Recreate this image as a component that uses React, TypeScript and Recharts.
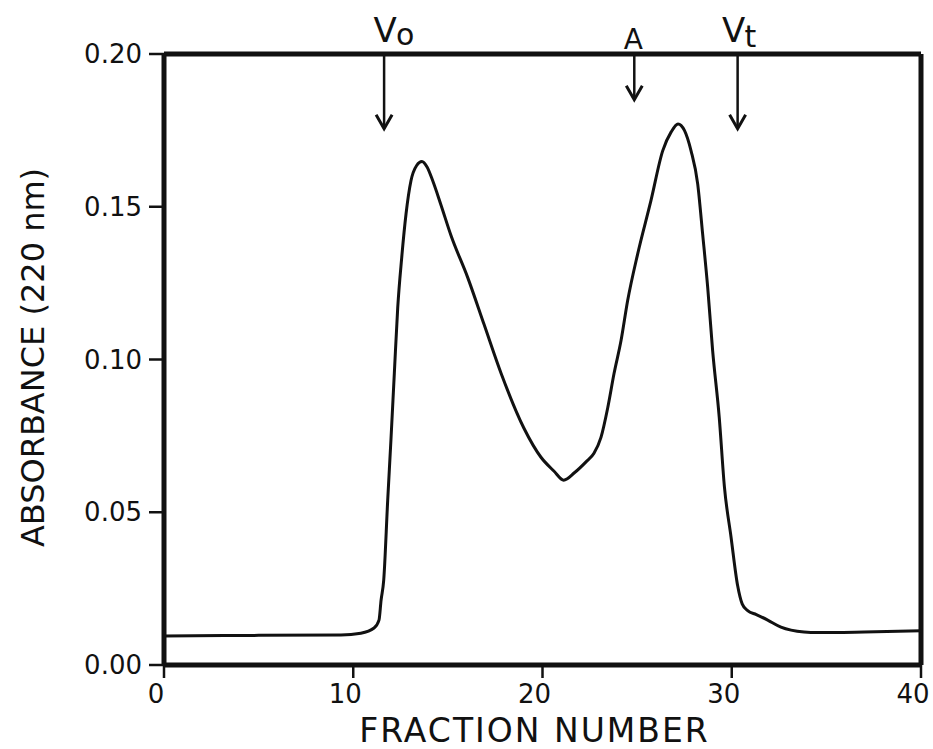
import React from 'react';
import { LineChart, Line, XAxis, YAxis, ReferenceLine, ReferenceDot, Label } from 'recharts';

const fractions = [0, 5, 9.35, 10.4, 11.1, 11.36, 11.47, 11.61, 11.82, 11.99, 12.17, 12.35, 12.56, 12.79, 13.05, 13.35, 13.63, 13.9, 14.2, 14.64, 15.17, 16.05, 16.91, 17.81, 19.02, 19.92, 20.6, 21.12, 21.7, 22.3, 22.72, 23.09, 23.45, 23.78, 24.15, 24.5, 25.03, 25.73, 26.35, 26.8, 27.16, 27.5, 27.85, 28.2, 28.46, 28.73, 28.99, 29.34, 29.61, 29.96, 30.31, 30.55, 30.84, 31.3, 31.9, 32.6, 33.82, 34.54, 37, 40];
const absorbance = [0.0095, 0.0097, 0.0098, 0.0104, 0.0121, 0.0147, 0.0212, 0.0278, 0.0539, 0.0735, 0.0954, 0.117, 0.1333, 0.1477, 0.1585, 0.1635, 0.1648, 0.163, 0.1585, 0.1505, 0.1405, 0.1268, 0.1115, 0.0955, 0.0775, 0.068, 0.0635, 0.0605, 0.063, 0.0665, 0.0693, 0.0745, 0.0843, 0.0954, 0.1062, 0.1193, 0.1346, 0.152, 0.1683, 0.1745, 0.1771, 0.175, 0.1683, 0.1575, 0.1412, 0.1235, 0.1029, 0.081, 0.0585, 0.042, 0.026, 0.02, 0.0178, 0.0165, 0.0147, 0.0124, 0.0108, 0.0106, 0.0108, 0.0112];

const xTicks = [0, 10, 20, 30, 40];
const yTicks = [0, 0.05, 0.1, 0.15, 0.2];

const markerX = [11.63, 24.85, 30.31];
const markerTip = [0.1755, 0.185, 0.1755];
const markerMain = ['V', 'A', 'V'];
const markerSub = ['o', '', 't'];

const data = fractions.map((f, i) => ({ f, a: absorbance[i] }));

const FONT = '"DejaVu Sans", sans-serif';
const INK = '#111';

const XTick = (props: any) => {
  const { x, y, payload } = props;
  return (
    <text x={x - 8} y={y} dy={18} textAnchor="middle" fontFamily={FONT} fontSize={26} fill={INK}>
      {payload.value}
    </text>
  );
};

const YTick = (props: any) => {
  const { x, y, payload } = props;
  return (
    <text x={x} y={y} dy={9} textAnchor="end" fontFamily={FONT} fontSize={26} fill={INK}>
      {Number(payload.value).toFixed(2)}
    </text>
  );
};

const ArrowHead = (props: any) => {
  const { cx, cy } = props;
  return (
    <path d={`M${cx - 8},${cy - 14} L${cx},${cy} L${cx + 8},${cy - 14}`} fill="none" stroke={INK} strokeWidth={3} strokeLinejoin="miter" />
  );
};

const makeMarkerLabel = (i: number) => (props: any) => {
  const { cx, cy } = props;
  if (markerMain[i] === 'A') {
    return (
      <text x={cx - 1} y={cy - 5} textAnchor="middle" fontFamily={FONT} fontSize={28} fill={INK}>A</text>
    );
  }
  const shift = markerSub[i] === 't' ? -4 : 1;
  return (
    <g>
      <text x={cx + shift} y={cy - 12} textAnchor="middle" fontFamily={FONT} fontSize={34} fill={INK}>{markerMain[i]}</text>
      <text x={cx + shift + 11} y={markerSub[i] === 't' ? cy - 7 : cy - 9} textAnchor="start" fontFamily={FONT} fontSize={30} fill={INK}>{markerSub[i]}</text>
    </g>
  );
};

const YLabel = (props: any) => {
  const vb = props.viewBox || { x: 0, y: 54, width: 164, height: 611 };
  const cx = 44;
  const cy = vb.y + vb.height / 2 - 2;
  return (
    <text x={cx} y={cy} transform={`rotate(-90, ${cx}, ${cy})`} textAnchor="middle" fontFamily={FONT} fontSize={32} fill={INK}>
      ABSORBANCE (220 nm)
    </text>
  );
};

const XLabel = (props: any) => {
  const vb = props.viewBox || { x: 164, y: 665, width: 757, height: 84 };
  const cx = vb.x + vb.width / 2 - 8;
  return (
    <text x={cx} y={742} textAnchor="middle" fontFamily={FONT} fontSize={33} letterSpacing={2} fill={INK}>
      FRACTION NUMBER
    </text>
  );
};

export default function App() {
  return (
    <div style={{ position: 'absolute', left: 0, top: 0, width: 933, height: 749, background: '#fff' }}>
      <LineChart width={933} height={749} data={data} margin={{ top: 54, right: 12, left: 0, bottom: 0 }}>
        <XAxis
          dataKey="f"
          type="number"
          domain={[0, 40]}
          ticks={xTicks}
          height={84}
          axisLine={{ stroke: INK, strokeWidth: 5 }}
          tickLine={{ stroke: INK, strokeWidth: 2.5 }}
          tickSize={13}
          tickMargin={7}
          tick={<XTick />}
          interval={0}
        >
          <Label content={<XLabel />} />
        </XAxis>
        <YAxis
          type="number"
          domain={[0, 0.2]}
          ticks={yTicks}
          width={164}
          axisLine={{ stroke: INK, strokeWidth: 5 }}
          tickLine={{ stroke: INK, strokeWidth: 2.5 }}
          tickSize={15}
          tickMargin={7}
          tick={<YTick />}
          interval={0}
        >
          <Label content={<YLabel />} />
        </YAxis>
        <ReferenceLine y={0.2} stroke={INK} strokeWidth={5} />
        <ReferenceLine x={40} stroke={INK} strokeWidth={5} />
        {markerX.map((mx, i) => (
          <ReferenceLine
            key={`shaft-${i}`}
            segment={[{ x: mx, y: 0.2 }, { x: mx, y: markerTip[i] }]}
            stroke={INK}
            strokeWidth={2.5}
          />
        ))}
        {markerX.map((mx, i) => (
          <ReferenceDot key={`head-${i}`} x={mx} y={markerTip[i]} r={1} shape={<ArrowHead />} />
        ))}
        {markerX.map((mx, i) => (
          <ReferenceDot key={`lab-${i}`} x={mx} y={0.2} r={1} shape={makeMarkerLabel(i)} />
        ))}
        <Line type="monotone" dataKey="a" stroke={INK} strokeWidth={3} dot={false} isAnimationActive={false} />
      </LineChart>
    </div>
  );
}
